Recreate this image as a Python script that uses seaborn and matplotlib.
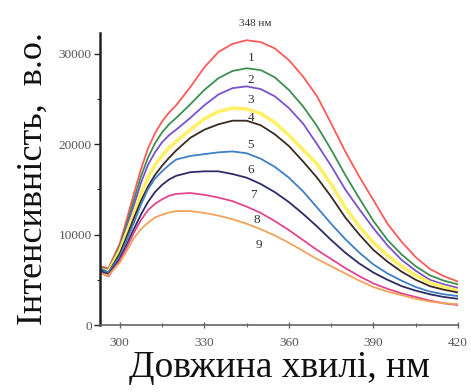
import numpy as np
import pandas as pd
import matplotlib
matplotlib.use("Agg")
import matplotlib.pyplot as plt
import seaborn as sns
from matplotlib.ticker import MultipleLocator

# Emission wavelengths, nm
wavelength = [293, 296, 300, 302.5, 305, 307.5, 310, 312.5, 315, 317.5, 320, 325, 330, 335,
              340, 345, 350, 355, 360, 365, 370, 375, 380, 385, 390, 395, 400, 405, 410,
              415, 420]

# Fluorescence intensity (a.u.) for spectra 1-9
s1 = [6500, 6300, 9000, 11700, 14500, 17200, 19500, 21200, 22500, 23500, 24300, 26300, 28500,
      30200, 31100, 31500, 31300, 30600, 29300, 27500, 25300, 22300, 19200, 16400, 13800,
      11200, 9200, 7500, 6200, 5400, 4800]
s2 = [6400, 6100, 8700, 11200, 13800, 16400, 18500, 20100, 21300, 22200, 22900, 24400, 26000,
      27300, 28100, 28400, 28200, 27400, 26000, 24200, 22000, 19400, 16600, 14000, 11500,
      9400, 7800, 6500, 5500, 4900, 4500]
s3 = [6300, 6000, 8400, 10800, 13200, 15700, 17700, 19100, 20200, 21000, 21600, 22900, 24300,
      25500, 26200, 26400, 26100, 25300, 24000, 22300, 20000, 17600, 15000, 12800, 10700,
      8800, 7200, 6000, 5000, 4500, 4100]
s4 = [6200, 5900, 8200, 10200, 12300, 14500, 16300, 17700, 18700, 19600, 20300, 21600, 22800,
      23600, 24000, 23900, 23400, 22400, 21000, 19400, 17800, 15600, 13000, 10900, 9100,
      7700, 6500, 5500, 4700, 4200, 3800]
s5 = [6200, 5800, 7900, 9800, 11800, 13700, 15300, 16600, 17600, 18500, 19300, 20700, 21600,
      22200, 22600, 22600, 22100, 21100, 19800, 18100, 16300, 14200, 11900, 10000, 8300,
      7000, 5900, 5000, 4300, 3900, 3600]
s6 = [6300, 5800, 7600, 9400, 11300, 13300, 15000, 16200, 17000, 17700, 18300, 18700, 18900,
      19100, 19200, 19000, 18400, 17500, 16300, 14800, 13000, 11200, 9500, 8000, 6700,
      5700, 4900, 4200, 3700, 3400, 3200]
s7 = [6000, 5600, 7300, 8900, 10600, 12200, 13600, 14700, 15500, 16100, 16500, 16900, 17000,
      17000, 16700, 16300, 15600, 14700, 13600, 12300, 10900, 9400, 8000, 6800, 5800,
      5000, 4300, 3800, 3400, 3100, 2900]
s8 = [5800, 5400, 7100, 8600, 10200, 11600, 12700, 13400, 13900, 14300, 14500, 14600, 14400,
      14100, 13700, 13100, 12400, 11500, 10500, 9400, 8300, 7300, 6300, 5400, 4600,
      4000, 3500, 3100, 2700, 2400, 2200]
s9 = [5700, 5500, 6900, 8200, 9600, 10600, 11300, 11900, 12200, 12450, 12600, 12600, 12400,
      12100, 11700, 11200, 10600, 9900, 9100, 8200, 7300, 6500, 5700, 4900, 4200,
      3700, 3300, 2900, 2600, 2400, 2300]

labels = ["1", "2", "3", "4", "5", "6", "7", "8", "9"]
series = [s1, s2, s3, s4, s5, s6, s7, s8, s9]
colors = ["#ff5a5a", "#3d8f4f", "#7a52cf", "#fff06a", "#3b2b22",
          "#3f80c4", "#2c2c66", "#e2458f", "#f2a35a"]
widths = [1.3, 1.3, 1.3, 2.6, 1.3, 1.3, 1.3, 1.3, 1.3]

# Where the curve numbers sit (nm, a.u.)
label_x = [346.5, 346.5, 346.5, 346.5, 346.5, 346.5, 347.5, 348.5, 349.5]
label_y = [29500, 27100, 24900, 22900, 19900, 17200, 14400, 11600, 8800]
peak_text = "348 нм"

df = pd.DataFrame({
    "wavelength": np.tile(wavelength, len(series)),
    "intensity": np.concatenate(series),
    "curve": np.repeat(labels, len(wavelength)),
})

sns.set_style("ticks")
plt.rcParams["font.family"] = ["Liberation Serif", "DejaVu Serif"]

fig = plt.figure(figsize=(4.71, 3.92), dpi=100)
ax = fig.add_axes([0.2123, 0.1709, 0.7601, 0.7449])

for lab, col, lw in zip(labels, colors, widths):
    sub = df[df["curve"] == lab]
    sns.lineplot(data=sub, x="wavelength", y="intensity", color=col,
                 linewidth=lw, ax=ax, legend=False)

for lab, lx, ly in zip(labels, label_x, label_y):
    ax.text(lx, ly, lab, fontsize=9.5, ha="center", va="center", color="#333333")
ax.text(348, 33300, peak_text, fontsize=8, ha="center", va="center",
        color="#333333", clip_on=False)

ax.set_xlim(293, 420)
ax.set_ylim(0, 32300)
ax.xaxis.set_major_locator(MultipleLocator(30))
ax.xaxis.set_minor_locator(MultipleLocator(15))
ax.yaxis.set_major_locator(MultipleLocator(10000))
ax.yaxis.set_minor_locator(MultipleLocator(5000))

sns.despine(ax=ax)
ax.spines["left"].set_linewidth(1.8)
ax.spines["left"].set_color("#222222")
ax.spines["bottom"].set_linewidth(1.2)
ax.spines["bottom"].set_color("#666666")

ax.tick_params(axis="y", which="major", direction="out", length=4, width=1,
               labelsize=9.5, labelcolor="#555555", pad=2)
ax.tick_params(axis="y", which="minor", direction="out", length=2.5, width=0.8)
ax.tick_params(axis="x", which="major", direction="inout", length=5, width=1,
               labelsize=9.5, labelcolor="#555555", pad=6, color="#666666")
ax.tick_params(axis="x", which="minor", direction="inout", length=3, width=0.8,
               color="#666666")

ax.set_xlabel("Довжина хвилі, нм", fontsize=27, labelpad=1, color="#111111")
ax.set_ylabel("Інтенсивність,  в.о.", fontsize=26, labelpad=6, color="#111111")

fig.savefig("out.png", dpi=100)
